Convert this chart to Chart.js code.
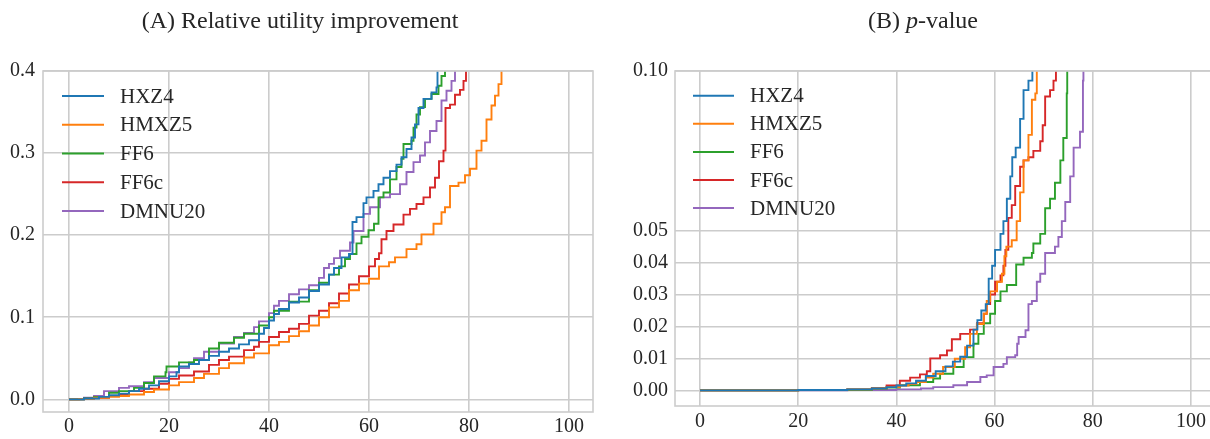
<!DOCTYPE html>
<html>
<head>
<meta charset="utf-8">
<script src="https://cdn.jsdelivr.net/npm/chart.js@4.4.1/dist/chart.umd.min.js"></script>
<style>
html,body{margin:0;padding:0;background:#ffffff;overflow:hidden;width:1210px;height:439px;}
#wrapA{position:absolute;left:0;top:0;width:605px;height:439px;}
#wrapB{position:absolute;left:605px;top:0;width:620px;height:439px;}
canvas{display:block;}
</style>
</head>
<body>
<div id="wrapA"><canvas id="cA" width="605" height="439"></canvas></div>
<div id="wrapB"><canvas id="cB" width="620" height="439"></canvas></div>
<script>
// ---------------- data ----------------
const seriesNames = ['HXZ4', 'HMXZ5', 'FF6', 'FF6c', 'DMNU20'];
const xTicks = [0, 20, 40, 60, 80, 100];
const yTicksA = [0, 0.1, 0.2, 0.3, 0.4];
const yTicksB = [0, 0.01, 0.02, 0.03, 0.04, 0.05, 0.10];
const titleA = [{text: '(A) Relative utility improvement'}];
const titleB = [{text: '(B) '}, {text: 'p', italic: true}, {text: '-value'}];

// (A) relative utility improvement: [percent of cases, value]
const utilHXZ4 = [[0,0],[3,0.001],[6,0.003],[8,0.005],[10,0.007],[12,0.01],[14,0.013],[16,0.017],[18,0.022],[20,0.028],[21.5,0.033],[22,0.04],[24,0.043],[26,0.048],[28,0.053],[30,0.058],[32,0.062],[34,0.067],[36,0.072],[38,0.08],[39,0.087],[40,0.096],[41,0.104],[42,0.11],[44,0.118],[46,0.124],[48,0.132],[50,0.14],[52,0.152],[53,0.16],[54.5,0.173],[56,0.177],[56.7,0.216],[57.5,0.222],[58.9,0.239],[59.5,0.246],[60.9,0.254],[61.9,0.262],[62.9,0.27],[64.2,0.278],[65.5,0.286],[66.5,0.295],[67.5,0.305],[68.5,0.319],[69.2,0.335],[69.9,0.355],[70.9,0.366],[72.5,0.374],[73.5,0.38],[73.7,0.42]];
const utilHMXZ5 = [[0,0],[2,0.0005],[5,0.002],[8,0.003],[10,0.004],[12,0.006],[15,0.009],[17,0.012],[20,0.017],[22,0.021],[25,0.026],[27,0.031],[30,0.038],[32,0.044],[35,0.051],[37,0.056],[40,0.066],[42,0.07],[44,0.077],[46,0.083],[48,0.09],[50,0.1],[52,0.112],[54,0.12],[56,0.133],[58,0.141],[60,0.147],[62,0.162],[64,0.167],[65.2,0.173],[67.5,0.183],[69.5,0.189],[70.5,0.201],[72.9,0.214],[74.5,0.228],[75.2,0.234],[76.2,0.26],[77.9,0.264],[79.2,0.273],[80.2,0.281],[81.5,0.303],[82.5,0.315],[83.5,0.341],[84.5,0.358],[85.2,0.37],[85.9,0.384],[86.5,0.42]];
const utilFF6 = [[0,0],[3,0.001],[5,0.003],[8,0.008],[10,0.01],[13,0.014],[15,0.02],[17,0.028],[19.3,0.033],[19.5,0.04],[22,0.045],[25,0.048],[28,0.062],[30,0.069],[33,0.075],[35,0.08],[38,0.09],[40,0.1],[41,0.108],[44,0.119],[48,0.133],[50,0.142],[52,0.152],[54,0.162],[55.2,0.171],[56.2,0.177],[57.5,0.19],[58.5,0.198],[59.9,0.206],[61,0.214],[61.9,0.246],[62.9,0.252],[64.2,0.268],[65.5,0.283],[66.5,0.293],[66.9,0.311],[68.5,0.315],[68.9,0.331],[69.5,0.347],[70.2,0.356],[71.2,0.366],[72.5,0.372],[73.9,0.382],[74.5,0.394],[75.2,0.42]];
const utilFF6c = [[0,0],[3,0.001],[5,0.002],[8,0.004],[10,0.006],[12,0.01],[15,0.013],[18,0.019],[20,0.025],[22,0.029],[25,0.034],[28,0.042],[30,0.048],[32,0.052],[35,0.06],[37,0.064],[38,0.07],[40,0.076],[42,0.082],[44,0.086],[46,0.092],[48,0.102],[50,0.108],[52,0.117],[54,0.129],[56,0.14],[58,0.15],[60,0.162],[61.2,0.171],[62,0.178],[62.5,0.195],[63.5,0.205],[64.9,0.213],[66.9,0.225],[68.2,0.232],[69.5,0.238],[70.9,0.246],[72.2,0.258],[73.2,0.27],[74,0.29],[74.9,0.303],[75.3,0.355],[76.2,0.359],[77.2,0.371],[78.2,0.377],[78.9,0.388],[79.4,0.42]];
const utilDMNU20 = [[0,0],[3,0.002],[5,0.004],[7,0.01],[10,0.014],[12,0.016],[15,0.021],[17,0.026],[20,0.033],[22,0.038],[24,0.045],[25,0.05],[27,0.058],[30,0.068],[33,0.076],[35,0.081],[37,0.088],[38,0.095],[40,0.105],[41,0.114],[42,0.12],[44,0.128],[46,0.134],[48,0.139],[50,0.148],[51,0.16],[52,0.165],[53,0.172],[54.2,0.181],[56.2,0.191],[56.9,0.205],[58.9,0.226],[60.2,0.234],[62.2,0.246],[64.2,0.25],[66.2,0.262],[67.5,0.277],[68.9,0.289],[70.2,0.297],[71.2,0.313],[72.2,0.327],[73.5,0.339],[74.5,0.364],[75.5,0.376],[76.5,0.388],[77.2,0.42]];

// (B) p-value: [percent of cases, value]
const pvalHXZ4 = [[0,0],[20,0.0001],[30,0.0003],[35,0.0006],[38,0.001],[40,0.0015],[42,0.0022],[44,0.003],[46,0.0045],[48,0.006],[50,0.0075],[51.5,0.009],[53,0.0105],[54.4,0.014],[55.7,0.019],[56.5,0.022],[57.3,0.025],[58.2,0.027],[58.8,0.035],[59.5,0.039],[60.1,0.044],[61.2,0.049],[61.8,0.053],[62.5,0.06],[63.2,0.067],[63.6,0.073],[64.3,0.076],[65.2,0.085],[65.9,0.094],[66.9,0.097],[67.7,0.12]];
const pvalHMXZ5 = [[0,0],[20,0.0001],[30,0.0003],[35,0.0006],[38,0.001],[40.7,0.0015],[42.5,0.002],[44.1,0.0026],[46,0.004],[47.5,0.0052],[49.5,0.0073],[51.9,0.0099],[54,0.0135],[55,0.0177],[56.4,0.0208],[57.8,0.024],[58.4,0.028],[59.1,0.031],[60.5,0.034],[61.5,0.0365],[62,0.042],[62.4,0.045],[63.5,0.047],[64.5,0.053],[65.2,0.062],[65.9,0.072],[66.9,0.08],[67.6,0.091],[68.3,0.093],[68.6,0.12]];
const pvalFF6 = [[0,0],[20,0.0001],[30,0.0002],[35,0.0005],[38,0.0009],[40.7,0.0016],[44.8,0.0026],[47.5,0.0037],[48.9,0.0052],[51.6,0.0073],[53.7,0.0104],[55.7,0.0146],[56.7,0.0177],[57.8,0.021],[59.1,0.024],[60.1,0.028],[61.2,0.031],[62.5,0.033],[64.4,0.0394],[65.9,0.0415],[67.6,0.043],[67.9,0.046],[69.3,0.049],[70.3,0.057],[71.3,0.06],[72.3,0.065],[73.4,0.072],[74,0.079],[74.7,0.093],[74.8,0.12]];
const pvalFF6c = [[0,0],[20,0.0001],[30,0.0003],[35,0.0007],[38,0.0015],[40.7,0.003],[42.8,0.004],[44.8,0.005],[46.2,0.006],[46.9,0.01],[48.9,0.011],[50.3,0.0125],[51.3,0.016],[53,0.0177],[55,0.019],[56.4,0.021],[57.8,0.024],[58.4,0.027],[59.1,0.03],[60.1,0.034],[61.2,0.036],[61.8,0.039],[62.2,0.044],[62.8,0.054],[63.5,0.058],[64.2,0.064],[65.2,0.07],[65.9,0.072],[66.9,0.073],[67.9,0.075],[69.3,0.078],[69.8,0.083],[70.3,0.092],[71.3,0.094],[72,0.097],[72.5,0.12]];
const pvalDMNU20 = [[0,0],[30,0.0001],[40,0.0003],[45,0.0006],[47.5,0.001],[51.6,0.0016],[54.4,0.0026],[57.1,0.0042],[58.4,0.0047],[59.8,0.0073],[61.8,0.0083],[62.5,0.0104],[64.2,0.011],[64.6,0.0146],[64.9,0.0167],[66.3,0.0188],[66.9,0.027],[67.6,0.028],[68.6,0.034],[69.3,0.0365],[70.3,0.043],[72.3,0.045],[73,0.048],[73.7,0.053],[74.4,0.059],[75.4,0.067],[76.1,0.076],[77.4,0.081],[78,0.097],[78.1,0.12]];

const utilSeries = [utilHXZ4, utilHMXZ5, utilFF6, utilFF6c, utilDMNU20];
const pvalSeries = [pvalHXZ4, pvalHMXZ5, pvalFF6, pvalFF6c, pvalDMNU20];

// ---------------- styles ----------------
const seriesColors = ['#1f77b4', '#ff7f0e', '#2ca02c', '#d62728', '#9467bd'];
const FONT = "'Liberation Serif', 'Times New Roman', serif";
const TEXT = '#262626';
const GRID = '#cccccc';

function decoPlugin(opt) {
  return {
    id: 'deco' + opt.key,
    afterDatasetsDraw(chart) {
      const ctx = chart.ctx, a = chart.chartArea;
      ctx.save();
      ctx.strokeStyle = GRID;
      ctx.lineWidth = 1.6;
      ctx.strokeRect(a.left, a.top, a.right - a.left, a.bottom - a.top);
      ctx.restore();
    },
    afterDraw(chart) {
      const ctx = chart.ctx;
      ctx.save();
      ctx.fillStyle = TEXT;
      ctx.textBaseline = 'middle';
      ctx.textAlign = 'left';
      let total = 0;
      const parts = opt.title.map(p => {
        ctx.font = (p.italic ? 'italic ' : '') + '24px ' + FONT;
        const w = ctx.measureText(p.text).width;
        total += w;
        return {text: p.text, italic: p.italic, w};
      });
      let x = opt.titleX - total / 2;
      parts.forEach(p => {
        ctx.font = (p.italic ? 'italic ' : '') + '24px ' + FONT;
        ctx.fillText(p.text, x, opt.titleY);
        x += p.w;
      });
      seriesNames.forEach((n, i) => {
        const y = opt.legY + i * opt.legDy;
        ctx.strokeStyle = seriesColors[i];
        ctx.lineWidth = 2;
        ctx.beginPath();
        ctx.moveTo(opt.legX0, y);
        ctx.lineTo(opt.legX1, y);
        ctx.stroke();
        ctx.font = '21px ' + FONT;
        ctx.fillStyle = TEXT;
        ctx.fillText(n, opt.legTx, y + 1);
      });
      ctx.restore();
    }
  };
}

function makeChart(canvasId, series, o) {
  const datasets = series.map((s, i) => ({
    label: seriesNames[i],
    data: s.map(([x, y]) => ({x, y})),
    borderColor: seriesColors[i],
    backgroundColor: seriesColors[i],
    borderWidth: 1.9,
    pointRadius: 0,
    stepped: true,
    fill: false,
    clip: 0
  }));
  return new Chart(document.getElementById(canvasId), {
    type: 'line',
    data: {datasets},
    options: {
      responsive: false,
      animation: false,
      devicePixelRatio: 1,
      layout: {padding: o.padding},
      plugins: {legend: {display: false}, tooltip: {enabled: false}, title: {display: false}},
      scales: {
        x: {
          type: 'linear', min: o.xMin, max: o.xMax,
          grid: {color: GRID, lineWidth: 1.6, drawTicks: false},
          border: {display: false},
          ticks: {autoSkip: false, color: TEXT, font: {family: FONT, size: 20}, padding: o.xPad,
                  callback: v => String(v)},
          afterBuildTicks: s => { s.ticks = xTicks.map(v => ({value: v})); },
          afterFit: s => { s.height = o.xH; }
        },
        y: {
          type: 'linear', min: o.yMin, max: o.yMax,
          grid: {color: GRID, lineWidth: 1.6, drawTicks: false},
          border: {display: false},
          ticks: {autoSkip: false, color: TEXT, font: {family: FONT, size: 20}, padding: o.yPad,
                  callback: v => Number(v).toFixed(o.dec)},
          afterBuildTicks: s => { s.ticks = o.yTicks.map(v => ({value: v})); },
          afterFit: s => { s.width = o.yW; }
        }
      }
    },
    plugins: [decoPlugin(o.deco)]
  });
}

makeChart('cA', utilSeries, {
  padding: {left: 7, right: 12, top: 71, bottom: 0},
  xMin: -5.2, xMax: 104.8, yMin: -0.0154, yMax: 0.4,
  xH: 27, yW: 36, xPad: 3, yPad: 8, dec: 1, yTicks: yTicksA,
  deco: {key: 'A', title: titleA, titleX: 300, titleY: 22,
         legX0: 62, legX1: 104, legTx: 120, legY: 96, legDy: 28.75}
});

makeChart('cB', pvalSeries, {
  padding: {left: 26, right: 10, top: 71, bottom: 0},
  xMin: -5.1, xMax: 104.9, yMin: -0.0049, yMax: 0.10,
  xH: 33, yW: 44, xPad: 4, yPad: 7, dec: 2, yTicks: yTicksB,
  deco: {key: 'B', title: titleB, titleX: 318, titleY: 22,
         legX0: 88, legX1: 129, legTx: 145, legY: 95.7, legDy: 28.1}
});
</script>
</body>
</html>
